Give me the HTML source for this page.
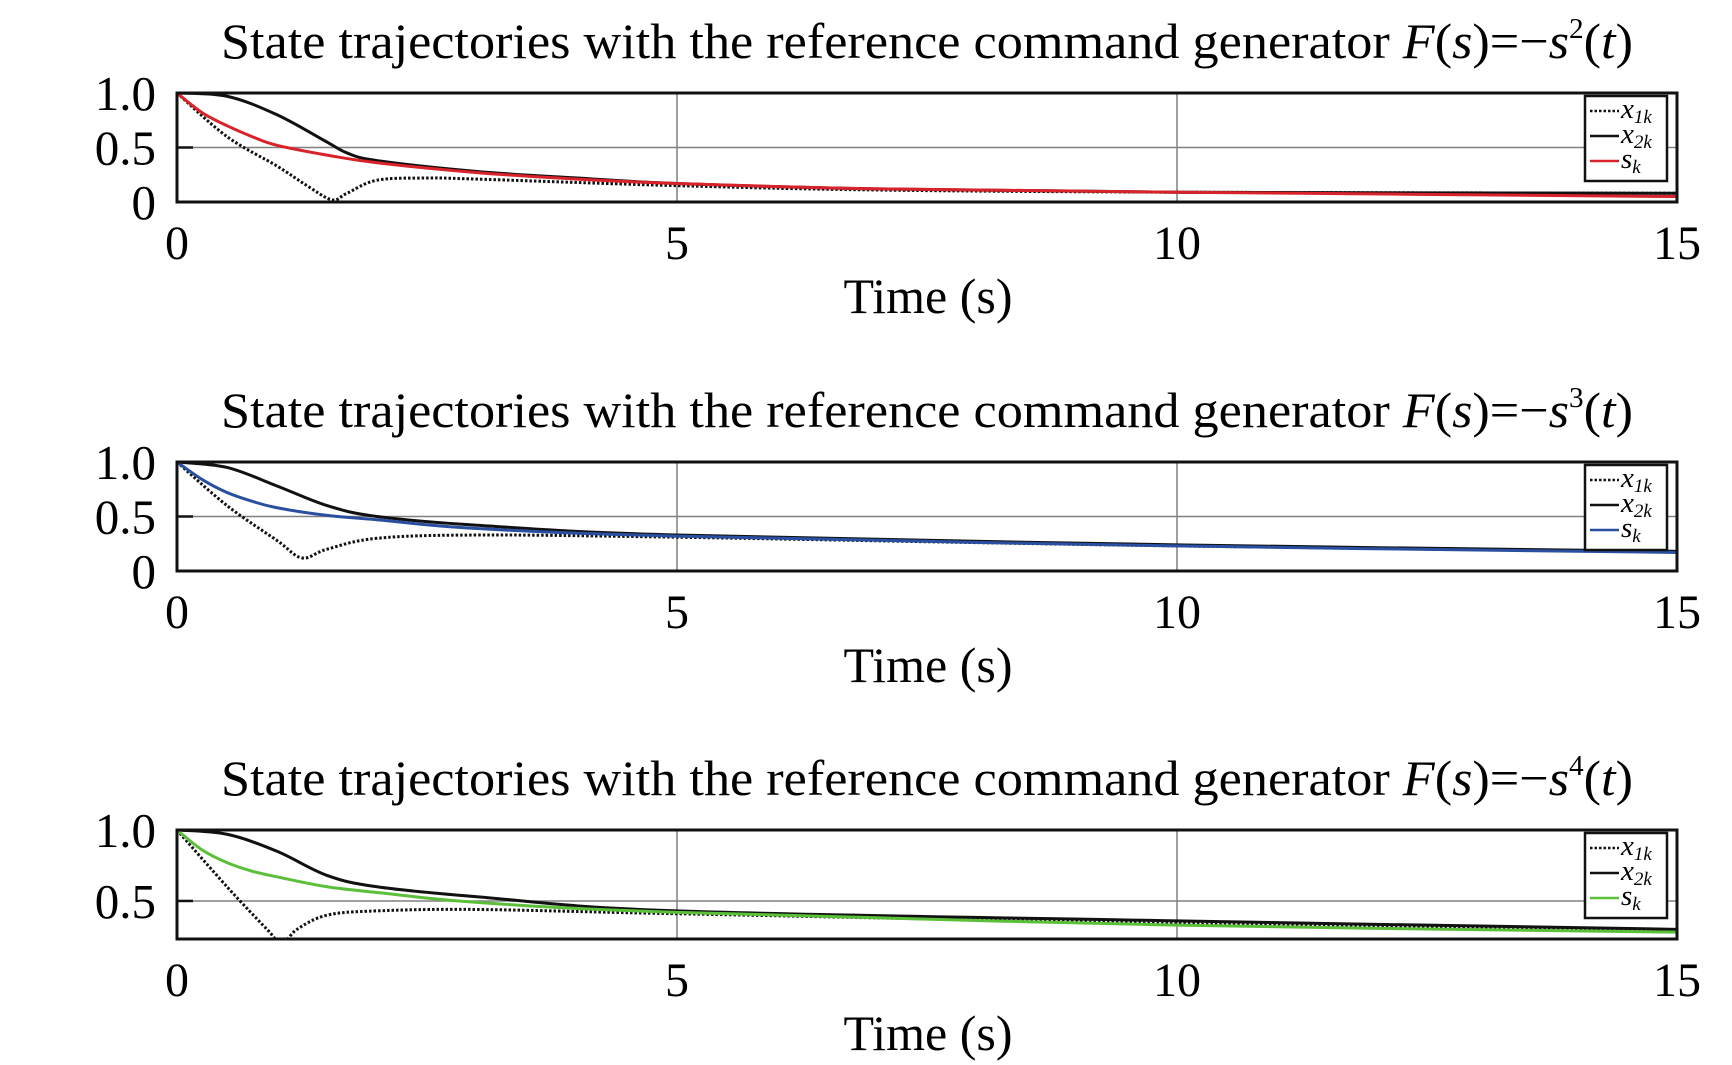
<!DOCTYPE html>
<html><head><meta charset="utf-8"><style>
body{margin:0;background:#fff;}
svg{display:block;font-family:"Liberation Serif",serif;}
</style></head><body>
<svg id="chart" width="1732" height="1065" viewBox="0 0 1732 1065"></svg>
<script>
const xTicks=[0,5,10,15];
const titlesExp=["2","3","4"];
const yMins=[0,0,0.232];
const yTickVals=[[0,0.5,1.0],[0,0.5,1.0],[0.5,1.0]];
const yTickLabels=[["0","0.5","1.0"],["0","0.5","1.0"],["0.5","1.0"]];
const sColors=["#d8232a","#2a4fa0","#5cbf3a"];
const x1p1=[[0,1],[0.5,0.6],[1,0.33],[1.3,0.15],[1.55,0.02],[1.7,0.08],[2,0.2],[2.5,0.22],[3,0.21],[5,0.15],[7,0.11],[10,0.09],[15,0.08]];
const x2p1=[[0,1],[0.5,0.97],[1,0.8],[1.5,0.55],[1.7,0.45],[2,0.38],[3,0.28],[4,0.22],[5,0.17],[7,0.12],[10,0.09],[15,0.08]];
const sp1=[[0,1],[0.25,0.82],[0.5,0.7],[0.75,0.6],[1,0.52],[1.5,0.43],[2,0.36],[3,0.27],[4,0.21],[5,0.17],[7,0.12],[10,0.09],[15,0.05]];
const x1p2=[[0,1],[0.5,0.6],[1,0.28],[1.25,0.12],[1.5,0.2],[2,0.3],[3,0.33],[5,0.31],[10,0.23],[15,0.18]];
const x2p2=[[0,1],[0.5,0.95],[1,0.78],[1.5,0.6],[2,0.5],[3,0.42],[5,0.33],[10,0.24],[15,0.18]];
const sp2=[[0,1],[0.25,0.84],[0.5,0.72],[0.75,0.64],[1,0.58],[1.5,0.51],[2,0.47],[3,0.39],[5,0.32],[10,0.23],[15,0.17]];
const x1p3=[[0,1],[0.5,0.6],[0.9,0.3],[1.05,0.2],[1.2,0.3],[1.5,0.4],[2,0.43],[3,0.44],[5,0.41],[10,0.34],[15,0.29]];
const x2p3=[[0,1],[0.5,0.97],[1,0.85],[1.5,0.68],[2,0.6],[3,0.53],[5,0.43],[10,0.36],[15,0.3]];
const sp3=[[0,1],[0.25,0.86],[0.5,0.77],[0.75,0.71],[1,0.67],[1.5,0.6],[2,0.56],[3,0.49],[5,0.42],[10,0.33],[15,0.28]];
const series=[[x1p1,x2p1,sp1],[x1p2,x2p2,sp2],[x1p3,x2p3,sp3]];
const NS="http://www.w3.org/2000/svg";
const svg=document.getElementById('chart');
function el(t,a,p){const e=document.createElementNS(NS,t);for(const k in a)e.setAttribute(k,a[k]);(p||svg).appendChild(e);return e;}
const L=177,R=1677,offs=[0,369,737];
const tops=[93,462,830],bots=[202,571,939];
function pathD(pts,sx,sy){
  const P=pts.map(p=>[sx(p[0]),sy(p[1])]);
  let d='M'+P[0][0]+','+P[0][1];
  for(let i=0;i<P.length-1;i++){
    const p0=P[Math.max(i-1,0)],p1=P[i],p2=P[i+1],p3=P[Math.min(i+2,P.length-1)];
    const c1=[p1[0]+(p2[0]-p0[0])/6,p1[1]+(p2[1]-p0[1])/6];
    const c2=[p2[0]-(p3[0]-p1[0])/6,p2[1]-(p3[1]-p1[1])/6];
    d+=' C'+c1[0]+','+c1[1]+' '+c2[0]+','+c2[1]+' '+p2[0]+','+p2[1];
  }
  return d;
}
for(let k=0;k<3;k++){
  const T=tops[k],B=bots[k],o=offs[k],ymin=yMins[k];
  const sx=v=>L+(v-0)/15*(R-L);
  const sy=v=>B-(v-ymin)/(1-ymin)*(B-T);
  const g=el('g',{});
  
  
  const title=el('text',{x:221,y:58+o,'font-size':50,textLength:1412,lengthAdjust:'spacingAndGlyphs'},g);
  
  
  title.innerHTML='State trajectories with the reference command generator <tspan font-style="italic">F</tspan>(<tspan font-style="italic">s</tspan>)=−<tspan font-style="italic">s</tspan><tspan font-size="28" dy="-20">'+titlesExp[k]+'</tspan><tspan dy="20">(</tspan><tspan font-style="italic">t</tspan>)';
  const cp=el('clipPath',{id:'clip'+k},g);
  el('rect',{x:L,y:T,width:R-L,height:B-T},cp);
  [5,10].forEach(v=>{const ln=el('line',{x1:sx(v),x2:sx(v),y1:T,y2:B,stroke:'#808080','stroke-width':1.5},g);
    });
  const hg=el('line',{x1:L,x2:R,y1:sy(0.5),y2:sy(0.5),stroke:'#808080','stroke-width':1.5},g);
  
  el('line',{x1:L,x2:L+16,y1:sy(0.5),y2:sy(0.5),stroke:'#111','stroke-width':2.5},g);
  const names=['x1','x2','s'];
  const styles=[{stroke:'#111','stroke-width':3,'stroke-dasharray':'2.5 2'},{stroke:'#111','stroke-width':3},{stroke:sColors[k],'stroke-width':3}];
  [0,1,2].forEach(i=>{
    const a=Object.assign({d:pathD(series[k][i],sx,sy),fill:'none','clip-path':'url(#clip'+k+')'},styles[i]);
    const p=el('path',a,g);
    
    
  });
  const frame=el('rect',{x:L,y:T,width:R-L,height:B-T,fill:'none',stroke:'#111','stroke-width':3},g);
  
  yTickVals[k].forEach((v,i)=>{const t=el('text',{x:156,y:sy(v)+17,'text-anchor':'end','font-size':49},g);
    t.textContent=yTickLabels[k][i];
    });
  xTicks.forEach(v=>{const t=el('text',{x:sx(v),y:259+o,'text-anchor':'middle','font-size':48},g);
    t.textContent=v;
    });
  const xt=el('text',{x:928,y:313+o,'text-anchor':'middle','font-size':50},g);
  xt.textContent='Time (s)';
  
  const lg=el('g',{},g);
  
  el('rect',{x:1585,y:96+o,width:82,height:85,fill:'#fff',stroke:'#111','stroke-width':2.5},lg);
  const labs=[['x','1k'],['x','2k'],['s','k']];
  labs.forEach((lb,i)=>{
    const yy=111+o+i*25;
    el('line',Object.assign({x1:1590,x2:1619,y1:yy,y2:yy},styles[i],{'stroke-width':2.5}),lg);
    const t=el('text',{x:1621,y:yy+7,'font-size':29,'font-style':'italic'},lg);
    t.innerHTML=lb[0]+'<tspan font-size="19" dy="5">'+lb[1]+'</tspan>';
    
  });
}
</script>
</body></html>
